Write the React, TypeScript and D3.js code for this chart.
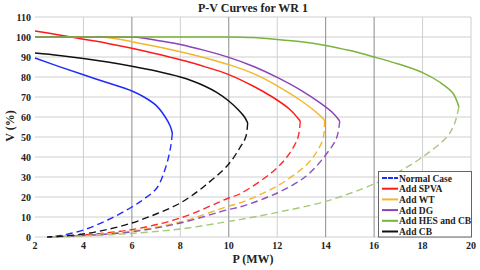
import React, { useRef, useEffect } from 'react';
import * as d3 from 'd3';

type Pt = [number, number];

// P (MW), V (%) – upper (stable) branch then lower (dashed) branch
const normalUpper: Pt[] = [[2, 89.5], [3, 85.2], [4, 81.1], [5, 77.1], [6, 73], [6.5, 70], [7, 65.8], [7.35, 60.5], [7.58, 55.5], [7.67, 52]];
const normalLower: Pt[] = [[7.67, 52], [7.6, 45], [7.4, 35], [7.03, 24.5], [6.5, 19], [6, 15], [5, 8.5], [4, 3.5], [3, 0.6], [2.5, 0]];

const spvaUpper: Pt[] = [[2, 103], [3, 101], [4, 98.9], [5, 96.8], [6, 94.4], [7, 91.6], [8, 88.6], [9, 85.2], [10, 81.2], [11, 75.5], [11.8, 70], [12.5, 64], [12.95, 58]];
const spvaLower: Pt[] = [[12.95, 58], [12.85, 49.5], [12.4, 40], [11.8, 32.5], [10.45, 21.5], [10, 19.5], [8, 9.5], [6, 3.7], [4, 1], [3, 0.2], [2.5, 0]];

const wtUpper: Pt[] = [[2, 100], [4, 100], [5, 99.8], [6, 97.6], [7, 95.2], [8, 92.6], [9, 89.6], [10, 86.2], [11, 81.8], [12, 75.6], [13, 68], [13.6, 62.5], [13.95, 58.5]];
const wtLower: Pt[] = [[13.95, 58.5], [13.9, 49.5], [13.6, 42], [13.2, 36], [12, 25.5], [10.45, 17], [10, 15.5], [8, 7.5], [6, 3], [4, 0.8], [3, 0.2], [2.5, 0]];

const dgUpper: Pt[] = [[2, 100], [5, 100], [6.3, 99.8], [7, 98.4], [8, 96.3], [9, 93.3], [10, 89.8], [11, 85.4], [12, 79.8], [13, 73.2], [13.8, 66.8], [14.3, 62], [14.58, 58]];
const dgLower: Pt[] = [[14.58, 58], [14.45, 49.5], [14, 41], [13.2, 30.5], [12, 22], [10.45, 15], [10, 13.8], [8, 7], [6, 2.6], [4, 0.7], [3, 0.2], [2.5, 0]];

const hesUpper: Pt[] = [[2, 100], [6, 100], [10, 100], [11, 99.7], [12, 98.8], [13, 97.6], [14, 95.8], [15, 93.2], [16, 90], [17, 86.5], [18, 82.2], [18.7, 77.5], [19.25, 72], [19.5, 65]];
const hesLower: Pt[] = [[19.5, 65], [19.3, 56], [19, 50], [18, 40], [17, 32.5], [16, 26.5], [14, 17.8], [12, 12.3], [10.45, 8.7], [10, 7.8], [8, 4], [6, 1.8], [4, 0.5], [2.5, 0]];

const cbUpper: Pt[] = [[2, 92], [3, 90.8], [4, 89.3], [5, 87.5], [6, 85.4], [7, 83], [8, 80], [8.5, 78], [9, 75.5], [9.5, 72.3], [10, 68], [10.4, 63.5], [10.65, 60], [10.78, 57]];
const cbLower: Pt[] = [[10.78, 57], [10.7, 50], [10.45, 44.5], [10, 36.5], [9, 25.5], [8, 17], [7, 11.5], [6, 7], [5, 3.8], [4, 1.5], [3, 0.3], [2.5, 0]];

const seriesNames = ['Normal Case', 'Add SPVA', 'Add WT', 'Add DG', 'Add HES and CB', 'Add CB'];
const seriesColors = ['#1f2bff', '#ff1a1a', '#f5b62a', '#8a44b8', '#78b43a', '#111111'];
const lowerColors = ['#1f2bff', '#ff2a2a', '#f5b62a', '#8a50c0', '#a6c87a', '#111111'];
const uppers = [normalUpper, spvaUpper, wtUpper, dgUpper, hesUpper, cbUpper];
const lowers = [normalLower, spvaLower, wtLower, dgLower, hesLower, cbLower];

const xTicks = [2, 4, 6, 8, 10, 12, 14, 16, 18, 20];
const yTicks = [0, 10, 20, 30, 40, 50, 60, 70, 80, 90, 100, 110];
const darkX = [6, 10, 14, 16];

const App: React.FC = () => {
  const ref = useRef<SVGSVGElement | null>(null);

  useEffect(() => {
    if (!ref.current) return;
    const svg = d3.select(ref.current);
    svg.selectAll('*').remove();

    const font = '"Liberation Serif", "Times New Roman", serif';
    const x = d3.scaleLinear().domain([2, 20]).range([35, 471]);
    const y = d3.scaleLinear().domain([0, 110]).range([237, 17]);

    svg.append('rect').attr('width', 480).attr('height', 270).attr('fill', '#fff');

    // grid
    const grid = svg.append('g');
    grid.selectAll('.hg').data(yTicks).enter().append('line')
      .attr('x1', x(2)).attr('x2', x(20))
      .attr('y1', d => y(d)).attr('y2', d => y(d))
      .attr('stroke', '#cfcfcf').attr('stroke-width', 1);
    grid.selectAll('.vg').data(xTicks.filter(d => d > 2)).enter().append('line')
      .attr('x1', d => x(d)).attr('x2', d => x(d))
      .attr('y1', y(0)).attr('y2', y(110))
      .attr('stroke', d => (darkX.includes(d) ? '#8c8c8c' : '#cfcfcf'))
      .attr('stroke-width', 1);

    // tick labels
    svg.append('g').selectAll('text').data(yTicks).enter().append('text')
      .attr('x', 31).attr('y', d => y(d) + 3.5)
      .attr('text-anchor', 'end')
      .attr('font-family', font).attr('font-weight', 'bold').attr('font-size', 10)
      .attr('fill', '#222')
      .text(d => d);
    svg.append('g').selectAll('text').data(xTicks).enter().append('text')
      .attr('x', d => x(d)).attr('y', 249)
      .attr('text-anchor', 'middle')
      .attr('font-family', font).attr('font-weight', 'bold').attr('font-size', 10)
      .attr('fill', '#222')
      .text(d => d);

    // title and axis labels
    svg.append('text').attr('x', 253).attr('y', 12).attr('text-anchor', 'middle')
      .attr('font-family', font).attr('font-weight', 'bold').attr('font-size', 12)
      .attr('fill', '#222').text('P-V Curves for WR 1');
    svg.append('text').attr('x', 253).attr('y', 263).attr('text-anchor', 'middle')
      .attr('font-family', font).attr('font-weight', 'bold').attr('font-size', 12)
      .attr('fill', '#222').text('P (MW)');
    svg.append('text').attr('transform', 'translate(14,126) rotate(-90)').attr('text-anchor', 'middle')
      .attr('font-family', font).attr('font-weight', 'bold').attr('font-size', 12)
      .attr('fill', '#222').text('V (%)');

    // curves
    const line = d3.line<Pt>().x(d => x(d[0])).y(d => y(d[1])).curve(d3.curveCatmullRom.alpha(0.5));
    const curves = svg.append('g').attr('fill', 'none');
    lowers.forEach((pts, i) => {
      curves.append('path').attr('d', line(pts) as string)
        .attr('stroke', lowerColors[i]).attr('stroke-width', 1.4)
        .attr('stroke-dasharray', '7,4');
    });
    uppers.forEach((pts, i) => {
      curves.append('path').attr('d', line(pts) as string)
        .attr('stroke', seriesColors[i]).attr('stroke-width', 1.5);
    });

    // legend
    const lg = svg.append('g');
    lg.append('rect').attr('x', 378.5).attr('y', 171.5).attr('width', 93).attr('height', 65.5)
      .attr('fill', '#fff').attr('stroke', '#666').attr('stroke-width', 1);
    const rows = lg.selectAll('.row').data(seriesNames).enter().append('g')
      .attr('transform', (_d, i) => `translate(0,${178 + i * 10.7})`);
    rows.append('line').attr('x1', 382).attr('x2', 398).attr('y1', 0).attr('y2', 0)
      .attr('stroke', (_d, i) => seriesColors[i]).attr('stroke-width', 2)
      .attr('stroke-dasharray', (_d, i) => (i === 0 ? '5,1' : null));
    rows.append('text').attr('x', 399).attr('y', 3.5)
      .attr('font-family', font).attr('font-weight', 'bold').attr('font-size', 9.5)
      .attr('fill', '#222').text(d => d);
  }, []);

  return <svg ref={ref} width={480} height={270} style={{ position: 'absolute', left: 0, top: 0 }} />;
};

export default App;
